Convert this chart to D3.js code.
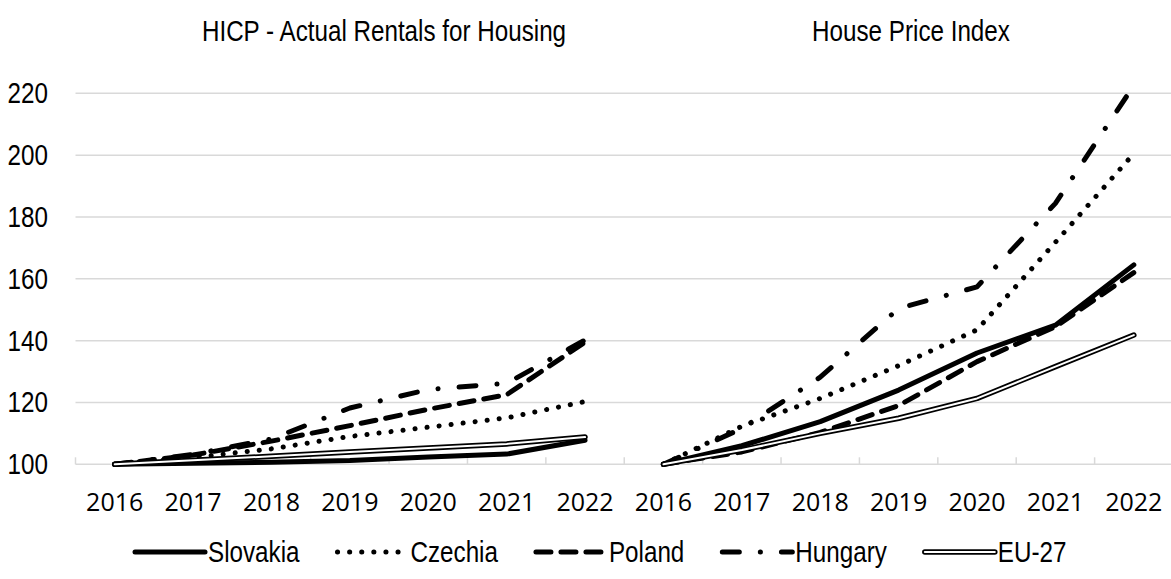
<!DOCTYPE html>
<html>
<head>
<meta charset="utf-8">
<script src="https://cdn.jsdelivr.net/npm/d3@7/dist/d3.min.js"></script>
<style>
  body { margin: 0; background: #fff; }
  svg { display: block; }
</style>
</head>
<body>
<div id="chart"></div>
<script>
// data (index, 2016 = 100)
const years = ['2016', '2017', '2018', '2019', '2020', '2021', '2022'];
const panelTitles = ['HICP - Actual Rentals for Housing', 'House Price Index'];
const seriesNames = ['Slovakia', 'Czechia', 'Poland', 'Hungary', 'EU-27'];
const yTicks = [100, 120, 140, 160, 180, 200, 220];

// HICP - actual rentals
const rentSlovakia = [100, 100.3, 100.7, 101.2, 102.4, 103.3, 107.8];
const rentCzechia  = [100, 102.2, 105.0, 109.0, 112.0, 115.0, 120.3];
const rentPoland   = [100, 103.0, 107.5, 112.5, 117.8, 122.5, 139.5];
const rentHungary  = [100, 103.2, 108.2, 118.2, 124.2, 126.2, 140.2];
const rentEU27     = [100, 101.3, 102.6, 104.0, 105.3, 106.6, 108.8];

// house price index
const hpiSlovakia = [100, 106.0, 113.8, 124.0, 136.0, 145.0, 164.5];
const hpiCzechia  = [100, 112.3, 121.3, 131.9, 143.5, 171.8, 200.5];
const hpiPoland   = [100, 104.0, 110.3, 119.0, 133.2, 144.5, 162.0];
const hpiHungary  = [100, 111.6, 128.2, 150.4, 157.4, 184.4, 222.5];
const hpiEU27     = [100, 104.6, 110.0, 114.9, 121.3, 131.6, 141.8];

const rents = [rentSlovakia, rentCzechia, rentPoland, rentHungary, rentEU27];
const hpis = [hpiSlovakia, hpiCzechia, hpiPoland, hpiHungary, hpiEU27];

// line looks, same order as seriesNames
const lineStyles = [
    { width: 5, dash: null },
    { width: 5, dash: '0.1,12' },
    { width: 5, dash: '15,10' },
    { width: 5, dash: '17,21,0.1,21' },
    { width: 5.5, dash: null, double: true }
];

const W = 1171, H = 579;
// no narrow font installed, so squeeze Liberation Sans horizontally
const narrow = "'Liberation Sans', Arial, sans-serif";
const squeeze = 0.835;

const svg = d3.select('#chart').append('svg')
    .attr('width', W).attr('height', H)
    .attr('viewBox', `0 0 ${W} ${H}`);

function narrowText(parent, str, tx, ty, anchor) {
    const t = parent.append('text')
        .attr('transform', `translate(${tx},${ty}) scale(${squeeze},1)`)
        .attr('text-anchor', anchor || 'start')
        .style('font-family', narrow)
        .style('font-size', '29px')
        .style('fill', '#000')
        .text(str);
    return t;
}

// one category axis with both panels side by side
const cats = [];
panelTitles.forEach((t, p) => years.forEach(y => cats.push(p + '-' + y)));

const x = d3.scaleBand().domain(cats).range([75.5, 1173]).padding(0);
const y = d3.scaleLinear().domain([100, 220]).range([464.3, 93.3]);
const cx = k => x(k) + x.bandwidth() / 2;

// gridlines
svg.append('g').selectAll('line')
    .data(yTicks)
    .join('line')
    .attr('x1', x.range()[0]).attr('x2', W)
    .attr('y1', d => y(d)).attr('y2', d => y(d))
    .attr('stroke', '#d9d9d9')
    .attr('stroke-width', 1.5);

// tick marks at category boundaries
svg.append('g').selectAll('line')
    .data(cats)
    .join('line')
    .attr('x1', d => x(d)).attr('x2', d => x(d))
    .attr('y1', y(100)).attr('y2', y(100) - 7)
    .attr('stroke', '#d9d9d9')
    .attr('stroke-width', 1.5);

// y labels
const yLab = svg.append('g');
yTicks.forEach(v => narrowText(yLab, v, 48, y(v) + 10, 'end'));

// x labels
svg.append('g').selectAll('text')
    .data(cats)
    .join('text')
    .attr('x', d => cx(d)).attr('y', 511)
    .attr('text-anchor', 'middle')
    .style('font-family', "'Open Sans', sans-serif")
    .style('font-size', '25px')
    .style('fill', '#000')
    .text(d => d.split('-')[1]);

// panel titles
const titleX = [384, 911];
const titles = svg.append('g');
panelTitles.forEach((t, i) => narrowText(titles, t, titleX[i], 41, 'middle'));

const line = d3.line().x(d => cx(d.key)).y(d => y(d.v));

function drawPath(g, d, st) {
    const p = g.append('path')
        .attr('d', d)
        .attr('fill', 'none')
        .attr('stroke', '#000')
        .attr('stroke-width', st.width)
        .attr('stroke-linecap', 'round')
        .attr('stroke-linejoin', 'round');
    if (st.dash) p.attr('stroke-dasharray', st.dash);
    if (st.double) {
        g.append('path')
            .attr('d', d)
            .attr('fill', 'none')
            .attr('stroke', '#fff')
            .attr('stroke-width', 2)
            .attr('stroke-linecap', 'round')
            .attr('stroke-linejoin', 'round');
    }
}

const linesG = svg.append('g');
seriesNames.forEach((name, i) => {
    [rents[i], hpis[i]].forEach((vals, p) => {
        const pts = vals.map((v, j) => ({ key: p + '-' + years[j], v }));
        drawPath(linesG, line(pts), lineStyles[i]);
    });
});

// legend
const legend = svg.append('g').attr('transform', 'translate(135, 552)');
let lx = 0;
seriesNames.forEach((name, i) => {
    const g = legend.append('g').attr('transform', `translate(${lx}, 0)`);
    drawPath(g, 'M0,0L70,0', lineStyles[i]);
    const t = narrowText(g, name, 73, 10);
    lx += 73 + t.node().getComputedTextLength() * squeeze + 38;
});
</script>
</body>
</html>
